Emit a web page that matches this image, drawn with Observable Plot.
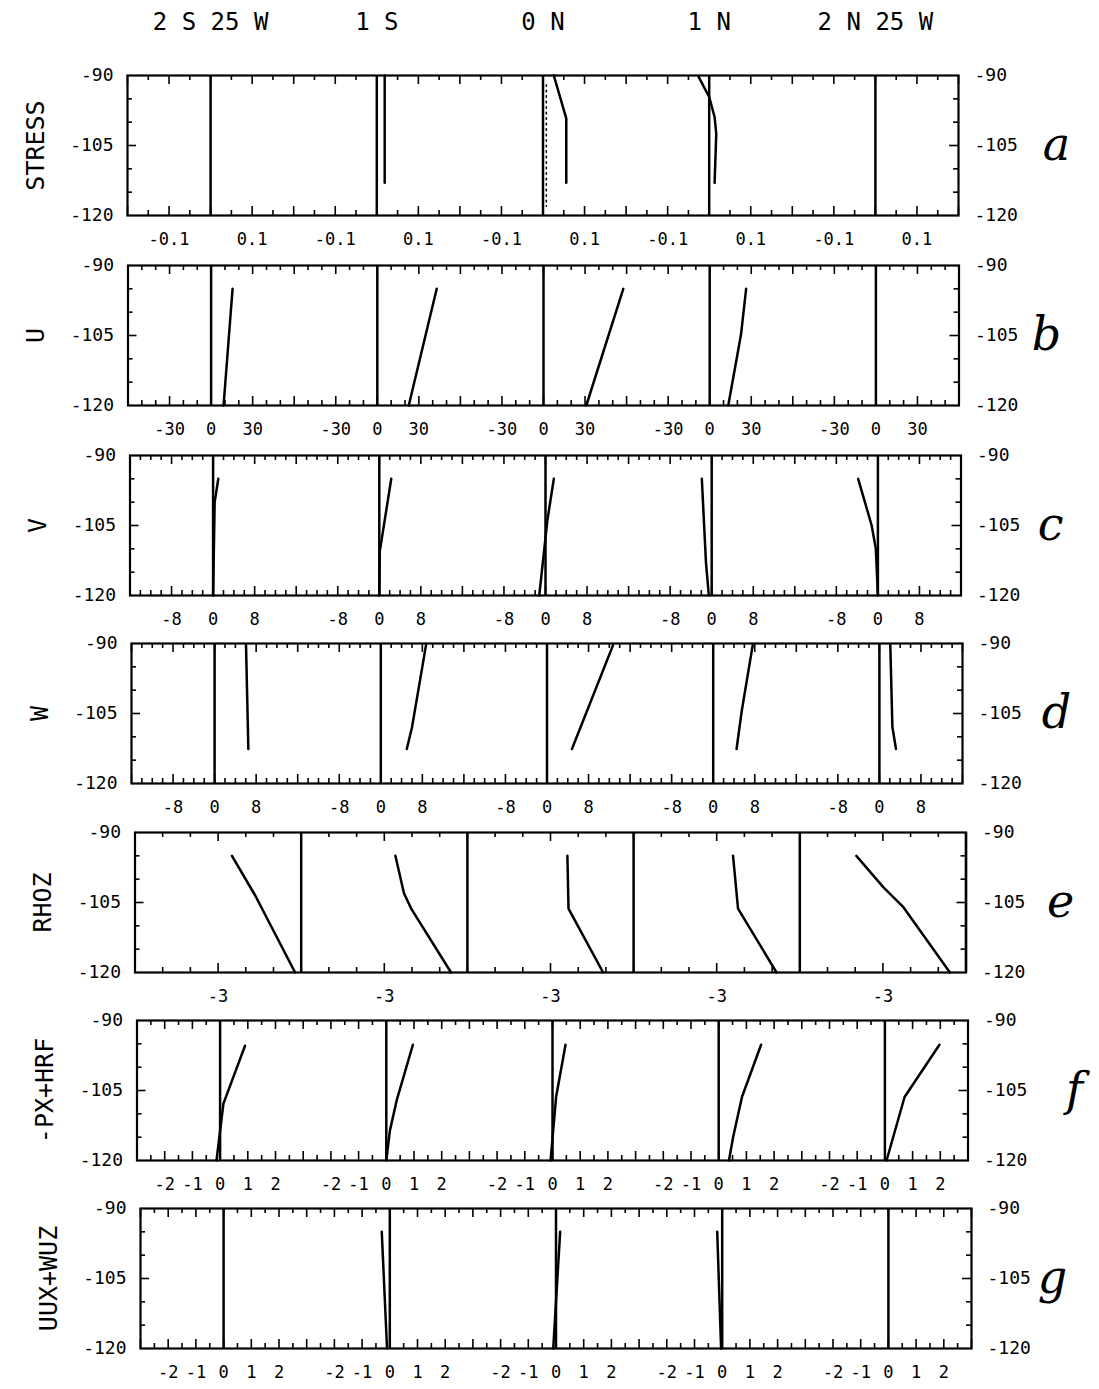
<!DOCTYPE html>
<html><head><meta charset="utf-8">
<script src="https://cdn.jsdelivr.net/npm/d3@7"></script>
<script src="https://cdn.jsdelivr.net/npm/@observablehq/plot@0.6"></script>
<style>
body{margin:0;background:#fff;}
#chart{width:1099px;}
#chart svg{display:block;}
</style></head><body><div id="chart"></div>
<script>
// ---- data ----
const stations = ["2 S 25 W", "1 S", "0 N", "1 N", "2 N 25 W"];
const depthLabels = [-90, -105, -120];
const depthMinor = [-95, -100, -110, -115];
const depthMajor = [-105];

// profiles: [stationIndex, depth, value]
const stressLines = [
  [1, -90, 0.019], [1, -113, 0.019],
  [2, -90, 0.026], [2, -99.2, 0.056], [2, -113, 0.056],
  [3, -90.2, -0.026], [3, -94.6, 0.0], [3, -98.9, 0.013], [3, -102.5, 0.017], [3, -113, 0.013]
];
const stressDotted = [[2, -92, 0.008], [2, -118, 0.008]];
const uLines = [
  [0, -95, 15.5], [0, -120, 9.0],
  [1, -95, 42.9], [1, -120, 22.7],
  [2, -95, 57.6], [2, -120, 30.9],
  [3, -95, 26.3], [3, -104.8, 22.6], [3, -120, 13.4]
];
const vLines = [
  [0, -95, 1.0], [0, -100, 0.3], [0, -120, 0.0],
  [1, -95, 2.3], [1, -110.5, 0.1], [1, -120, 0.0],
  [2, -95, 1.6], [2, -104, 0.35], [2, -120, -1.2],
  [3, -95, -1.9], [3, -113, -1.1], [3, -120, -0.55],
  [4, -95, -3.8], [4, -100, -2.5], [4, -105, -1.2], [4, -110, -0.4], [4, -120, 0.0]
];
const wLines = [
  [0, -90.4, 6.05], [0, -112.6, 6.5],
  [1, -90.4, 8.7], [1, -108, 6.0], [1, -112.6, 5.0],
  [2, -90.4, 12.7], [2, -112.6, 4.8],
  [3, -90.4, 7.6], [3, -104.4, 5.5], [3, -112.6, 4.5],
  [4, -90.4, 2.1], [4, -107.9, 2.5], [4, -112.6, 3.2]
];
const rhozLines = [
  [0, -95, -2.5], [0, -103.5, -1.66], [0, -120, -0.22],
  [1, -95, -2.6], [1, -103, -2.29], [1, -106.3, -2.03], [1, -120, -0.59],
  [2, -95, -2.39], [2, -106.3, -2.35], [2, -120, -1.1],
  [3, -95, -2.41], [3, -106.3, -2.23], [3, -120, -0.84],
  [4, -95, -3.96], [4, -101.8, -2.97], [4, -106, -2.26], [4, -120, -0.58]
];
const pxLines = [
  [0, -95.4, 0.9], [0, -107.8, 0.12], [0, -120, -0.13],
  [1, -95.2, 0.96], [1, -107, 0.38], [1, -113.6, 0.13], [1, -120, 0.0],
  [2, -95.2, 0.47], [2, -106.4, 0.13], [2, -120, -0.07],
  [3, -95.2, 1.53], [3, -106.4, 0.84], [3, -115, 0.52], [3, -120, 0.37],
  [4, -95.2, 1.97], [4, -106.4, 0.71], [4, -120, 0.06]
];
const uuxLines = [
  [1, -95, -0.29], [1, -120, -0.1],
  [2, -95, 0.15], [2, -120, -0.1],
  [3, -95, -0.18], [3, -120, -0.04]
];

const rowNames = ["STRESS", "U", "V", "W", "RHOZ", "-PX+HRF", "UUX+WUZ"];
const rowLetters = ["a", "b", "c", "d", "e", "f", "g"];
const stationRanges = [[-0.2, 0.2], [-60, 60], [-16, 16], [-16, 16], [-6, 0], [-3, 3], [-3, 3]];
const minorSteps = [0.05, 10, 2, 2, 1, 0.5, 0.5];
const majorSteps = [0.1, 30, 8, 8, 3, 1, 1];
const tickLabels = [[-0.1, 0.1], [-30, 0, 30], [-8, 0, 8], [-8, 0, 8], [-3], [-2, -1, 0, 1, 2], [-2, -1, 0, 1, 2]];
const rowLinesList = [stressLines, uLines, vLines, wLines, rhozLines, pxLines, uuxLines];

// ---- layout ----
const MONO = "DejaVu Sans Mono, monospace";
const rowShift = [0, 0.5, 2.5, 4, 7.5, 9.5, 13];
const rowTop = [75, 10, 10, 10, 10, 10, 10];
const rowBottom = [40, 40, 38, 39, 38, 38, 41];
const letterX = [1056, 1046, 1050, 1056, 1060, 1074, 1052];
const FRAME_W = 831, FRAME_H = 140;

const chart = document.getElementById("chart");
rowNames.forEach((name, i) => {
  const [lo, hi] = stationRanges[i];
  const w = hi - lo;
  const ml = 127 + rowShift[i];
  const mr = 1099 - ml - FRAME_W;
  const H = rowTop[i] + FRAME_H + rowBottom[i];
  const minor = minorSteps[i], major = majorSteps[i];
  const n = Math.round(5 * w / minor);
  const all = d3.range(n + 1).map(k => lo + k * minor);
  const isMajor = t => Math.abs(t / major - Math.round(t / major)) < 1e-6;
  const xMinor = all.filter(t => !isMajor(t));
  const xMajor = all.filter(isMajor);
  const zeros = stations.map((s, k) => k * w);
  const fmt = i === 0 ? (v => v.toFixed(1)) : (v => String(v));
  const labelData = stations.flatMap((s, k) => tickLabels[i].map(v => ({x: k * w + v, t: fmt(v)})));
  const px = d => d[0] * w + d[2];

  const marks = [
    Plot.tickX(xMinor, {x: d => d, insetBottom: FRAME_H - 5, strokeWidth: 1.6}),
    Plot.tickX(xMajor, {x: d => d, insetBottom: FRAME_H - 9, strokeWidth: 1.6}),
    Plot.tickX(xMinor, {x: d => d, insetTop: FRAME_H - 5, strokeWidth: 1.6}),
    Plot.tickX(xMajor, {x: d => d, insetTop: FRAME_H - 9, strokeWidth: 1.6}),
    Plot.tickY(depthMinor, {y: d => d, insetRight: FRAME_W - 5, strokeWidth: 1.6}),
    Plot.tickY(depthMajor, {y: d => d, insetRight: FRAME_W - 9, strokeWidth: 1.6}),
    Plot.tickY(depthMinor, {y: d => d, insetLeft: FRAME_W - 5, strokeWidth: 1.6}),
    Plot.tickY(depthMajor, {y: d => d, insetLeft: FRAME_W - 9, strokeWidth: 1.6}),
    Plot.ruleX(zeros, {x: d => d, strokeWidth: 2.5}),
    Plot.line(rowLinesList[i], {x: px, y: d => d[1], z: d => d[0], strokeWidth: 2.5, curve: "linear"}),
    Plot.frame({strokeWidth: 2.2}),
    Plot.text(labelData, {x: "x", text: "t", frameAnchor: "bottom", lineAnchor: "middle", textAnchor: "middle", dy: 24, fontSize: 17, fontFamily: MONO}),
    Plot.text(depthLabels, {y: d => d, text: d => String(d), frameAnchor: "left", lineAnchor: "middle", dx: -14, textAnchor: "end", fontSize: 18, fontFamily: MONO}),
    Plot.text(depthLabels, {y: d => d, text: d => String(d), frameAnchor: "right", lineAnchor: "middle", dx: 16, textAnchor: "start", fontSize: 18, fontFamily: MONO}),
    Plot.text([name], {text: d => d, frameAnchor: "left", textAnchor: "middle", lineAnchor: "middle", dx: -92, rotate: -90, fontSize: 25, letterSpacing: "1px", fontFamily: MONO}),
    Plot.text([rowLetters[i]], {text: d => d, frameAnchor: "right", textAnchor: "middle", lineAnchor: "middle", dx: letterX[i] - (ml + FRAME_W), fontSize: 46, fontStyle: "italic", fontFamily: "DejaVu Serif, serif"})
  ];
  if (i === 0) {
    marks.push(Plot.line(stressDotted, {x: px, y: d => d[1], strokeWidth: 1.6, strokeDasharray: "1.5,4"}));
    marks.push(Plot.text(stations, {x: (d, k) => k * w, text: d => d, frameAnchor: "top", lineAnchor: "middle", textAnchor: "middle", dy: -53, fontSize: 24, fontFamily: MONO, letterSpacing: "1.5px"}));
  }
  const svg = Plot.plot({
    width: 1099, height: H,
    marginLeft: ml, marginRight: mr, marginTop: rowTop[i], marginBottom: rowBottom[i],
    x: {domain: [lo, lo + 5 * w], axis: null},
    y: {domain: [-120, -90], axis: null},
    style: {background: "white", color: "black", fontFamily: MONO, overflow: "visible"},
    marks
  });
  chart.appendChild(svg);
});
</script></body></html>
